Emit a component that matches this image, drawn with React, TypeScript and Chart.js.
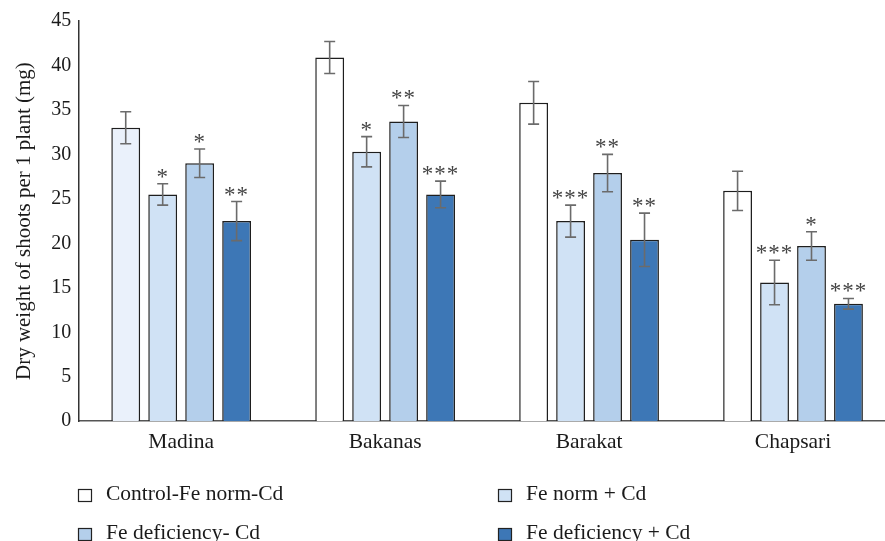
import React, { useEffect, useRef } from "react";
import { Chart, registerables } from "chart.js";

Chart.register(...registerables);

const categories = ["Madina", "Bakanas", "Barakat", "Chapsari"];
const seriesNames = ["Control-Fe norm-Cd", "Fe norm + Cd", "Fe deficiency- Cd", "Fe deficiency + Cd"];
const controlValues = [33.0, 40.9, 35.8, 25.9];
const feNormCdValues = [25.5, 30.3, 22.5, 15.6];
const feDefValues = [29.0, 33.7, 27.9, 19.7];
const feDefCdValues = [22.5, 25.5, 20.4, 13.2];
const controlErr = [1.8, 1.8, 2.4, 2.2];
const feNormCdErr = [1.2, 1.7, 1.8, 2.5];
const feDefErr = [1.6, 1.8, 2.1, 1.6];
const feDefCdErr = [2.2, 1.5, 3.0, 0.6];
const controlMarks = ["", "", "", ""];
const feNormCdMarks = ["*", "*", "***", "***"];
const feDefMarks = ["*", "**", "**", "*"];
const feDefCdMarks = ["**", "***", "**", "***"];
const yTicks = [0, 5, 10, 15, 20, 25, 30, 35, 40, 45];
const yTitle = "Dry weight of shoots per 1 plant (mg)";

const FONT = "'Liberation Serif', 'DejaVu Serif', serif";

const errorsBySeries = [controlErr, feNormCdErr, feDefErr, feDefCdErr];
const marksBySeries = [controlMarks, feNormCdMarks, feDefMarks, feDefCdMarks];

const errorPlugin = {
  id: "errorBars",
  afterDatasetsDraw(chart: any) {
    const ctx = chart.ctx;
    const y = chart.scales.y;
    ctx.save();
    chart.data.datasets.forEach((ds: any, di: number) => {
      const meta = chart.getDatasetMeta(di);
      meta.data.forEach((bar: any, i: number) => {
        const v = ds.data[i];
        const e = errorsBySeries[di][i];
        const top = y.getPixelForValue(v + e);
        const bot = y.getPixelForValue(v - e);
        const x = bar.x;
        ctx.strokeStyle = "#6b6b6b";
        ctx.lineWidth = 1.6;
        ctx.beginPath();
        ctx.moveTo(x, top);
        ctx.lineTo(x, bot);
        ctx.moveTo(x - 5.5, top);
        ctx.lineTo(x + 5.5, top);
        ctx.moveTo(x - 5.5, bot);
        ctx.lineTo(x + 5.5, bot);
        ctx.stroke();
        const m = marksBySeries[di][i];
        if (m) {
          ctx.fillStyle = "#444";
          ctx.font = `23px ${FONT}`;
          ctx.textAlign = "center";
          ctx.textBaseline = "alphabetic";
          ctx.letterSpacing = "1px";
          ctx.fillText(m, x, top + 0);
        }
      });
    });
    ctx.restore();
  },
};

const legendPlugin = {
  id: "gridLegend",
  afterDraw(chart: any) {
    const ctx = chart.ctx;
    const pos = [
      [78, 494],
      [498, 494],
      [78, 533],
      [498, 533],
    ];
    ctx.save();
    chart.data.datasets.forEach((ds: any, di: number) => {
      const [lx, ly] = pos[di];
      ctx.fillStyle = ds.legendColor;
      ctx.fillRect(lx + 0.5, ly - 4.5, 13, 12);
      ctx.strokeStyle = "#222";
      ctx.lineWidth = 1.2;
      ctx.strokeRect(lx + 0.5, ly - 4.5, 13, 12);
      ctx.fillStyle = "#1a1a1a";
      ctx.font = `21.5px ${FONT}`;
      ctx.textAlign = "left";
      ctx.textBaseline = "middle";
      ctx.fillText(seriesNames[di], lx + 28, ly);
    });
    ctx.restore();
  },
};

export default function App() {
  const ref = useRef<HTMLCanvasElement>(null);
  useEffect(() => {
    if (!ref.current) return;
    const chart = new Chart(ref.current, {
      type: "bar",
      data: {
        labels: categories,
        datasets: [
          {
            label: seriesNames[0],
            data: controlValues,
            backgroundColor: ["#eaf1fb", "#ffffff", "#ffffff", "#ffffff"],
            legendColor: "#ffffff",
            borderColor: "#1e1e1e",
          } as any,
          {
            label: seriesNames[1],
            data: feNormCdValues,
            backgroundColor: "#d0e2f5",
            legendColor: "#d0e2f5",
            borderColor: "#1e1e1e",
          },
          {
            label: seriesNames[2],
            data: feDefValues,
            backgroundColor: "#b4cfeb",
            legendColor: "#b4cfeb",
            borderColor: "#1e1e1e",
          },
          {
            label: seriesNames[3],
            data: feDefCdValues,
            backgroundColor: "#3d77b6",
            legendColor: "#3d77b6",
            borderColor: "#1e1e1e",
          },
        ],
      },
      options: {
        animation: false,
        responsive: false,
        maintainAspectRatio: false,
        datasets: {
          bar: {
            borderWidth: 1.5,
            categoryPercentage: 0.725,
            barPercentage: 0.78,
          },
        },
        layout: { padding: { top: 21, right: 0, bottom: 78, left: 12 } },
        plugins: {
          legend: { display: false },
          tooltip: { enabled: false },
        },
        scales: {
          x: {
            grid: { display: false, drawTicks: false },
            border: { display: true, color: "#555", width: 1.5 },
            ticks: { color: "#1a1a1a", font: { family: FONT, size: 21.5 }, padding: 8 },
          },
          y: {
            min: 0,
            max: 45,
            afterBuildTicks: (scale: any) => {
              scale.ticks = yTicks.map((v) => ({ value: v }));
            },
            grid: { display: false, drawTicks: false },
            border: { display: true, color: "#333", width: 1.5 },
            ticks: { color: "#1a1a1a", font: { family: FONT, size: 20 }, padding: 8 },
            title: {
              display: true,
              text: yTitle,
              color: "#1a1a1a",
              font: { family: FONT, size: 21 },
              padding: { top: 0, bottom: 6 },
            },
          },
        },
      },
      plugins: [errorPlugin, legendPlugin],
    });
    return () => chart.destroy();
  }, []);
  return (
    <div style={{ position: "absolute", left: 0, top: 0, width: 885, height: 541, overflow: "hidden", background: "#fff" }}>
      <canvas ref={ref} width={895} height={541} style={{ display: "block" }} />
    </div>
  );
}
